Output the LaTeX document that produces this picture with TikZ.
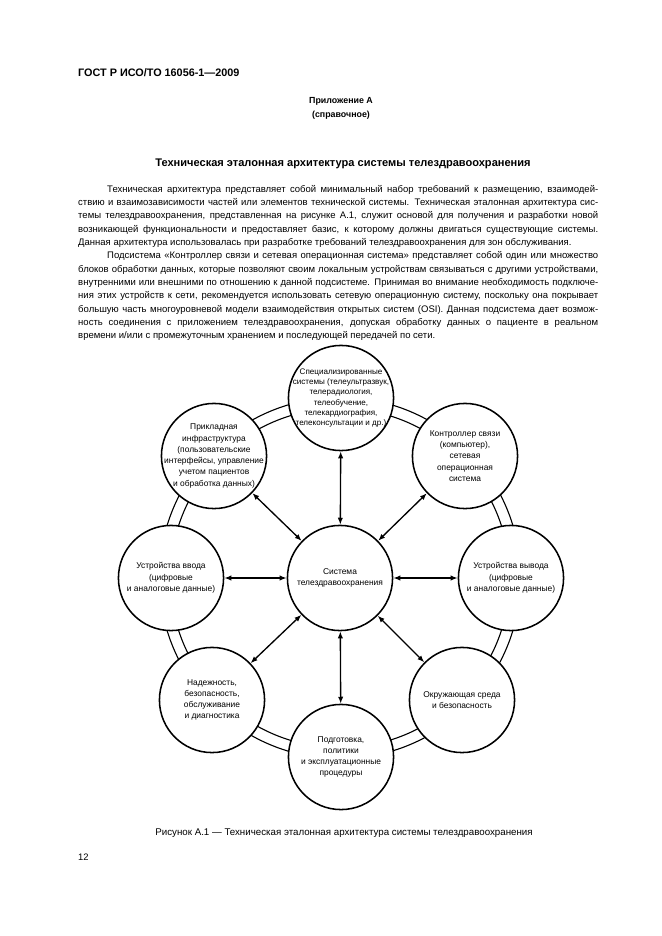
\documentclass[tikz,border=0pt]{standalone}
\usepackage{fontspec}
\setmainfont{Liberation Sans}
\usetikzlibrary{arrows.meta, positioning, calc}

\newcommand{\bodyfont}{\fontsize{8.6}{12}\selectfont}
\newcommand{\unitfont}{\fontsize{7.6}{10.2}\selectfont}
\newcommand{\jl}[2][165.2mm]{\makebox[#1][s]{#2}}

\tikzset{
  textline/.style={anchor=base west, inner sep=0pt, font=\bodyfont},
  unit/.style={circle, draw, line width=1.4pt, fill=white, minimum size=33.4mm, inner sep=0pt},
  unittext/.style={align=center, inner sep=0pt, font=\unitfont},
  ring/.style={line width=1pt},
  link/.style={{Latex[length=2.2mm,width=1.7mm]}-{Latex[length=2.2mm,width=1.7mm]}, line width=1.2pt}
}

\begin{document}
\begin{tikzpicture}[x=0.3177mm, y=-0.3177mm]
\useasboundingbox[fill=white] (0,0) rectangle (661,936);

% Page header
\node[anchor=base west, inner sep=0pt, font=\bfseries\fontsize{9.8}{12}\selectfont] (gost) at (78,77) {ГОСТ Р ИСО/ТО 16056-1—2009};
\node[anchor=base, inner sep=0pt, font=\bfseries\fontsize{8}{10}\selectfont] (annex) at (341,104) {Приложение А};
\node[anchor=base, inner sep=0pt, font=\bfseries\fontsize{8}{10}\selectfont] (annexkind) at (341,118) {(справочное)};
\node[anchor=base, inner sep=0pt, font=\bfseries\fontsize{10}{12}\selectfont] (title) at (343,166) {Техническая эталонная архитектура системы телездравоохранения};

% First paragraph
\node[textline] (p1a) at (107,192) {\jl[156mm]{Техническая архитектура представляет собой минимальный набор требований к размещению, взаимодей-}};
\node[textline] (p1b) at (78,205) {\jl{ствию и взаимозависимости частей или элементов технической системы. Техническая эталонная архитектура сис-}};
\node[textline] (p1c) at (78,218) {\jl{темы телездравоохранения, представленная на рисунке А.1, служит основой для получения и разработки новой}};
\node[textline] (p1d) at (78,232) {\jl{возникающей функциональности и предоставляет базис, к которому должны двигаться существующие системы.}};
\node[textline] (p1e) at (78,245) {Данная архитектура использовалась при разработке требований телездравоохранения для зон обслуживания.};

% Second paragraph
\node[textline] (p2a) at (107,258) {\jl[156mm]{Подсистема «Контроллер связи и сетевая операционная система» представляет собой один или множество}};
\node[textline] (p2b) at (78,272) {\jl{блоков обработки данных, которые позволяют своим локальным устройствам связываться с другими устройствами,}};
\node[textline] (p2c) at (78,285) {\jl{внутренними или внешними по отношению к данной подсистеме. Принимая во внимание необходимость подключе-}};
\node[textline] (p2d) at (78,298) {\jl{ния этих устройств к сети, рекомендуется использовать сетевую операционную систему, поскольку она покрывает}};
\node[textline] (p2e) at (78,312) {\jl{большую часть многоуровневой модели взаимодействия открытых систем (OSI). Данная подсистема дает возмож-}};
\node[textline] (p2f) at (78,325) {\jl{ность соединения с приложением телездравоохранения, допуская обработку данных о пациенте в реальном}};
\node[textline] (p2g) at (78,338) {времени и/или с промежуточным хранением и последующей передачей по сети.};

% Double ring behind the units
\draw[ring] (340,578) circle (53.9mm);
\draw[ring] (340,578) circle (57.4mm);

% Central system
\node[unit] (hub) at (340,578) {};
\node[unittext] (hub-txt) at (hub) {Система\\телездравоохранения};

% Units on the ring
\node[unit] (spec) at (341,398) {};
\node[unittext, font=\fontsize{7.3}{9.3}\selectfont] (spec-txt) at (spec) {Специализированные\\системы (телеультразвук,\\телерадиология,\\телеобучение,\\телекардиография,\\телеконсультации и др.)};

\node[unit] (ctrl) at (465,456) {};
\node[unittext] (ctrl-txt) at (ctrl) {Контроллер связи\\(компьютер),\\сетевая\\операционная\\система};

\node[unit] (out) at (511,578) {};
\node[unittext] (out-txt) at (out) {Устройства вывода\\(цифровые\\и аналоговые данные)};

\node[unit] (env) at (462,700) {};
\node[unittext] (env-txt) at (env) {Окружающая среда\\и безопасность};

\node[unit] (proc) at (341,757) {};
\node[unittext] (proc-txt) at (proc) {Подготовка,\\политики\\и эксплуатационные\\процедуры};

\node[unit] (rel) at (212,700) {};
\node[unittext] (rel-txt) at (rel) {Надежность,\\безопасность,\\обслуживание\\и диагностика};

\node[unit] (in) at (171,578) {};
\node[unittext] (in-txt) at (in) {Устройства ввода\\(цифровые\\и аналоговые данные)};

\node[unit] (app) at (214,456) {};
\node[unittext] (app-txt) at (app) {Прикладная\\инфраструктура\\(пользовательские\\интерфейсы, управление\\учетом пациентов\\и обработка данных)};

% Links from the hub
\foreach \s in {spec, ctrl, out, env, proc, rel, in, app} {
    \draw[link] (hub) -- (\s);
}

% Caption and page number
\node[anchor=base, inner sep=0pt, font=\fontsize{8.8}{11}\selectfont] (caption) at (344,835) {Рисунок А.1 — Техническая эталонная архитектура системы телездравоохранения};
\node[anchor=base west, inner sep=0pt, font=\fontsize{8.5}{10}\selectfont] (pageno) at (78,860) {12};
\end{tikzpicture}
\end{document}
